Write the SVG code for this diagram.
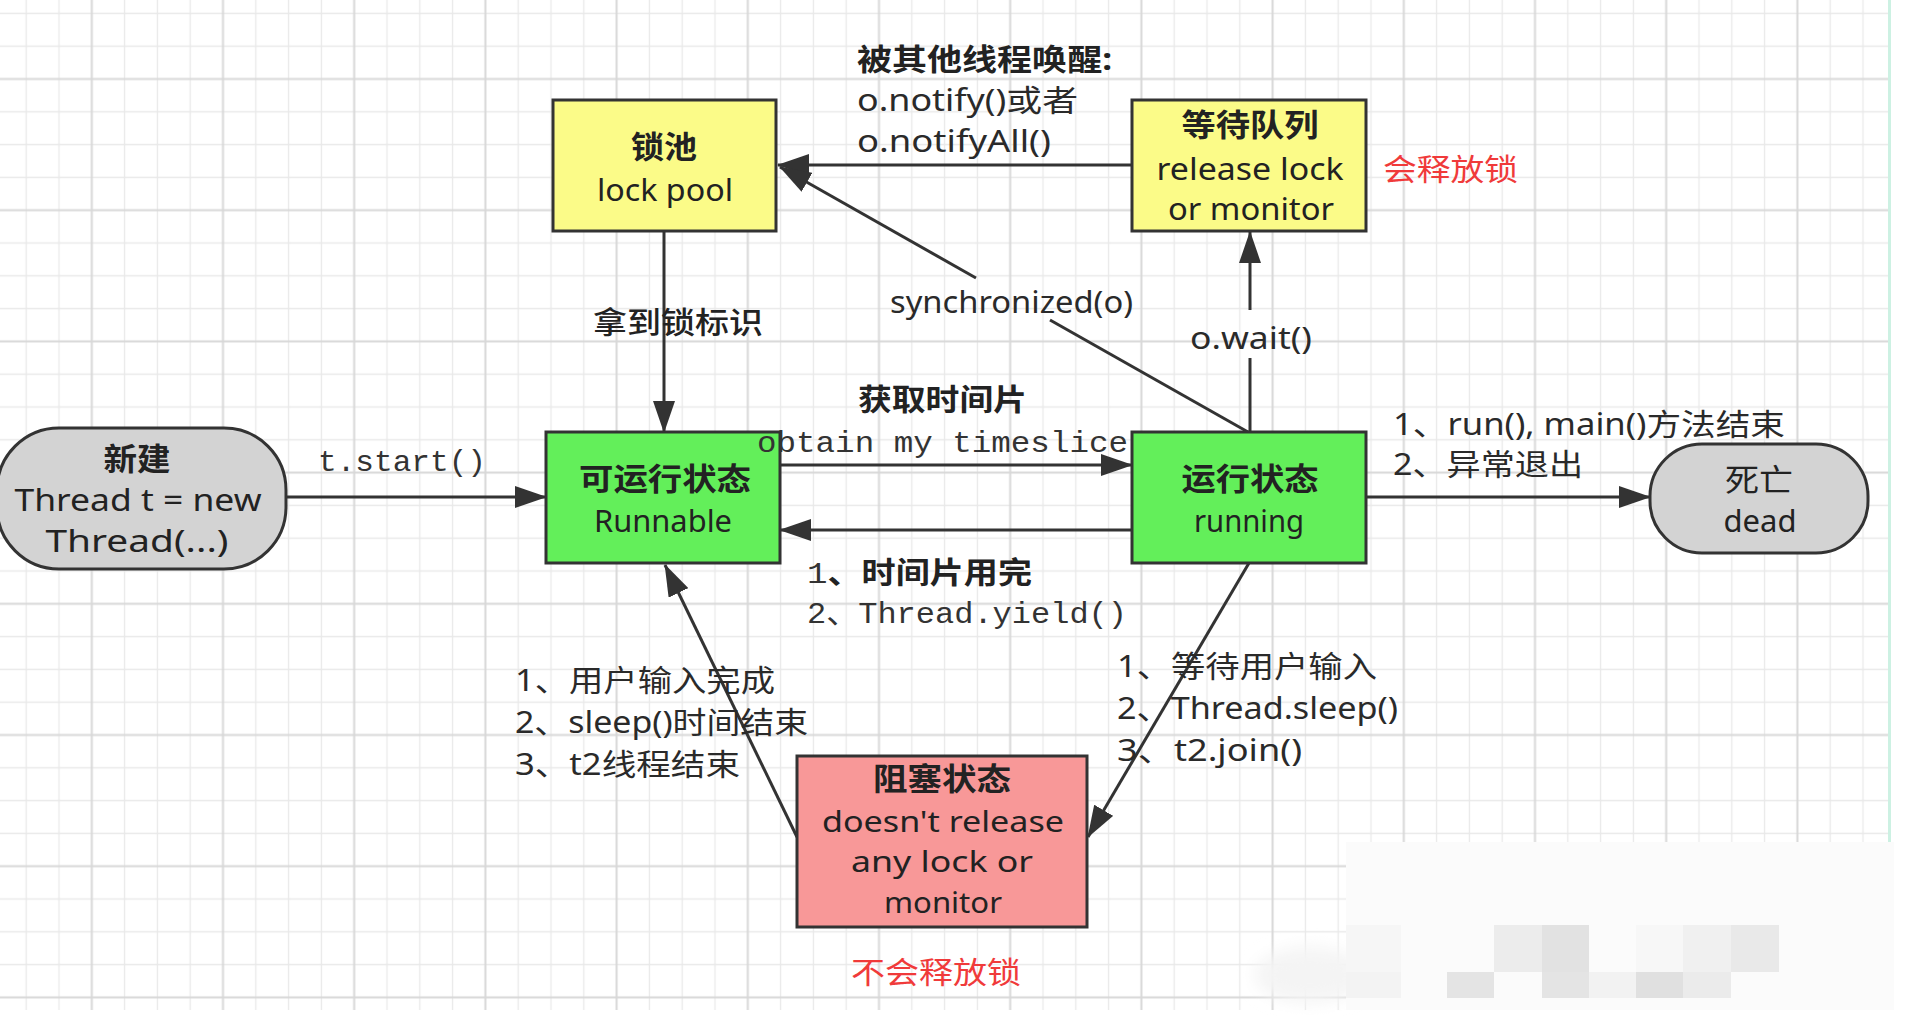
<svg xmlns="http://www.w3.org/2000/svg" width="1906" height="1016" viewBox="0 0 1906 1016">
<defs>
<pattern id="grid" patternUnits="userSpaceOnUse" x="75.4" y="62.6" width="131.2" height="131.2">
<path d="M49.2 0V131.2M82 0V131.2M114.8 0V131.2M0 49.2H131.2M0 82H131.2M0 114.8H131.2" stroke="#e9e9e9" stroke-width="1.3" fill="none"/>
<path d="M16.4 0V131.2M0 16.4H131.2" stroke="#d8d8d8" stroke-width="2" fill="none"/>
</pattern>
<marker id="arr" viewBox="0 0 32 22" refX="31" refY="11" markerWidth="32" markerHeight="22" markerUnits="userSpaceOnUse" orient="auto">
<path d="M0 0L32 11L0 22Z" fill="#333"/>
</marker>
<filter id="blur" x="-50%" y="-50%" width="200%" height="200%"><feGaussianBlur stdDeviation="8"/></filter>
</defs>
<style>
.box{stroke:#333;stroke-width:3}
.yellow{fill:#fbfb88}
.green{fill:#63ef5a}
.pink{fill:#f89898}
.grey{fill:#d3d3d3}
.conn line,.conn path{stroke:#333;stroke-width:3;fill:none}
.t{font-family:"Noto Sans","Noto Sans CJK SC",sans-serif;fill:#222;font-size:31px}
.t30{font-size:29px}
.c{font-family:"Noto Sans CJK SC","Noto Sans",sans-serif;fill:#222;font-size:31px;font-weight:bold}
.lbl{font-family:"Noto Sans","Noto Sans CJK SC",sans-serif;fill:#2a2a2a;font-size:30px}
.lblb{font-family:"Noto Sans","Noto Sans CJK SC",sans-serif;fill:#222;font-size:30px;font-weight:bold}
.mono{font-family:"Liberation Mono","Noto Sans CJK SC",monospace;fill:#333;font-size:30px}
.red{font-family:"Noto Sans CJK SC",sans-serif;fill:#f03a3a;font-size:30px}
.mid{text-anchor:middle}
</style>
<rect x="0" y="0" width="1906" height="1016" fill="#ffffff"/>
<rect x="0" y="0" width="1888" height="1010" fill="url(#grid)"/>
<line x1="1889.5" y1="0" x2="1889.5" y2="1010" stroke="#cdf1e3" stroke-width="3"/>

<!-- mosaic watermark area -->
<g id="mosaic">
<ellipse cx="1310" cy="975" rx="55" ry="28" fill="#f4f4f4" filter="url(#blur)"/>
<rect x="1346" y="842" width="548" height="168" fill="#fbfbfb"/>
<rect x="1346" y="925" width="55" height="47" fill="#f6f6f6"/>
<rect x="1494" y="925" width="48" height="47" fill="#ececec"/>
<rect x="1542" y="925" width="47" height="47" fill="#e2e2e2"/>
<rect x="1636" y="925" width="47" height="47" fill="#f7f7f7"/>
<rect x="1683" y="925" width="48" height="47" fill="#f0f0f0"/>
<rect x="1731" y="925" width="48" height="47" fill="#e9e9e9"/>
<rect x="1346" y="972" width="55" height="26" fill="#f3f3f3"/>
<rect x="1447" y="972" width="47" height="26" fill="#e4e4e4"/>
<rect x="1542" y="972" width="47" height="26" fill="#e4e4e4"/>
<rect x="1589" y="972" width="47" height="26" fill="#f2f2f2"/>
<rect x="1636" y="972" width="47" height="26" fill="#e0e0e0"/>
<rect x="1683" y="972" width="48" height="26" fill="#ebebeb"/>
</g>

<g class="conn" id="connectors">
<line x1="286" y1="497" x2="546" y2="497" marker-end="url(#arr)"/>
<line x1="664" y1="231" x2="664" y2="432" marker-end="url(#arr)"/>
<line x1="1132" y1="165" x2="778" y2="165" marker-end="url(#arr)"/>
<line x1="1248" y1="432" x2="1050" y2="320"/>
<line x1="976" y1="278" x2="780" y2="167" marker-end="url(#arr)"/>
<line x1="780" y1="465" x2="1132" y2="465" marker-end="url(#arr)"/>
<line x1="1132" y1="530" x2="780" y2="530" marker-end="url(#arr)"/>
<line x1="1250" y1="432" x2="1250" y2="358"/>
<line x1="1250" y1="310" x2="1250" y2="232" marker-end="url(#arr)"/>
<line x1="1366" y1="497" x2="1650" y2="497" marker-end="url(#arr)"/>
<line x1="1249" y1="563" x2="1088" y2="837" marker-end="url(#arr)"/>
<line x1="797" y1="837" x2="665" y2="565" marker-end="url(#arr)"/>
</g>

<g id="node-new">
<rect class="box grey" x="-3" y="428" width="289" height="141" rx="62" ry="62"/>
<text class="c mid" x="137" y="470" textLength="67" lengthAdjust="spacingAndGlyphs">新建</text>
<text class="t mid" x="138" y="511" textLength="247" lengthAdjust="spacingAndGlyphs">Thread t = new</text>
<text class="t mid" x="137" y="552" textLength="183" lengthAdjust="spacingAndGlyphs">Thread(...)</text>
</g>

<g id="node-lockpool">
<rect class="box yellow" x="553" y="100" width="223" height="131"/>
<text class="c mid" x="664" y="158" textLength="66" lengthAdjust="spacingAndGlyphs">锁池</text>
<text class="t mid" x="665" y="201" textLength="136" lengthAdjust="spacingAndGlyphs">lock pool</text>
</g>

<g id="node-waitqueue">
<rect class="box yellow" x="1132" y="100" width="234" height="131"/>
<text class="c mid" x="1250" y="136" textLength="137" lengthAdjust="spacingAndGlyphs">等待队列</text>
<text class="t mid" x="1250" y="180" textLength="187" lengthAdjust="spacingAndGlyphs">release lock</text>
<text class="t mid" x="1251" y="220" textLength="166" lengthAdjust="spacingAndGlyphs">or monitor</text>
</g>

<g id="node-runnable">
<rect class="box green" x="546" y="432" width="234" height="131"/>
<text class="c mid" x="665" y="490" textLength="172" lengthAdjust="spacingAndGlyphs">可运行状态</text>
<text class="t mid" x="663" y="532" textLength="138" lengthAdjust="spacingAndGlyphs">Runnable</text>
</g>

<g id="node-running">
<rect class="box green" x="1132" y="432" width="234" height="131"/>
<text class="c mid" x="1250" y="490" textLength="137" lengthAdjust="spacingAndGlyphs">运行状态</text>
<text class="t mid" x="1249" y="532" textLength="110" lengthAdjust="spacingAndGlyphs">running</text>
</g>

<g id="node-blocked">
<rect class="box pink" x="797" y="756" width="290" height="171"/>
<text class="c mid" x="942" y="790" textLength="138" lengthAdjust="spacingAndGlyphs">阻塞状态</text>
<text class="t t30 mid" x="943" y="832" textLength="242" lengthAdjust="spacingAndGlyphs">doesn't release</text>
<text class="t t30 mid" x="942" y="872" textLength="182" lengthAdjust="spacingAndGlyphs">any lock or</text>
<text class="t t30 mid" x="943" y="913" textLength="118" lengthAdjust="spacingAndGlyphs">monitor</text>
</g>

<g id="node-dead">
<rect class="box grey" x="1650" y="444" width="218" height="109" rx="52" ry="52"/>
<text class="c mid" x="1759" y="491" textLength="68" lengthAdjust="spacingAndGlyphs" style="font-weight:normal">死亡</text>
<text class="t mid" x="1760" y="532" textLength="73" lengthAdjust="spacingAndGlyphs">dead</text>
</g>

<g id="labels">
<text class="mono" x="318" y="471" textLength="168" lengthAdjust="spacingAndGlyphs">t.start()</text>
<text class="lblb" x="593" y="333" textLength="170" lengthAdjust="spacingAndGlyphs" style="font-weight:500">拿到锁标识</text>
<text class="lblb" x="857" y="70" textLength="255" lengthAdjust="spacingAndGlyphs">被其他线程唤醒:</text>
<text class="lbl" x="857" y="111" textLength="221" lengthAdjust="spacingAndGlyphs">o.notify()或者</text>
<text class="lbl" x="857" y="152" textLength="194" lengthAdjust="spacingAndGlyphs">o.notifyAll()</text>
<text class="red" x="1383" y="180" textLength="135" lengthAdjust="spacingAndGlyphs">会释放锁</text>
<text class="lbl" x="890" y="313" textLength="243" lengthAdjust="spacingAndGlyphs">synchronized(o)</text>
<text class="lbl" x="1190" y="349" textLength="122" lengthAdjust="spacingAndGlyphs">o.wait()</text>
<text class="lblb" x="858" y="410" textLength="169" lengthAdjust="spacingAndGlyphs">获取时间片</text>
<text class="mono" x="757" y="452" textLength="371" lengthAdjust="spacingAndGlyphs">obtain my timeslice</text>
<text class="lblb" x="807" y="583" textLength="225" lengthAdjust="spacingAndGlyphs"><tspan class="mono" style="font-weight:normal">1</tspan>、时间片用完</text>
<text class="mono" x="807" y="623" textLength="320" lengthAdjust="spacingAndGlyphs">2、Thread.yield()</text>
<text class="lbl" x="1393" y="435" textLength="392" lengthAdjust="spacingAndGlyphs">1、run(), main()方法结束</text>
<text class="lbl" x="1393" y="475" textLength="190" lengthAdjust="spacingAndGlyphs">2、异常退出</text>
<text class="lbl" x="1117" y="677" textLength="260" lengthAdjust="spacingAndGlyphs">1、等待用户输入</text>
<text class="lbl" x="1117" y="719" textLength="281" lengthAdjust="spacingAndGlyphs">2、Thread.sleep()</text>
<text class="lbl" x="1117" y="761" textLength="185" lengthAdjust="spacingAndGlyphs">3、t2.join()</text>
<text class="lbl" x="515" y="691" textLength="260" lengthAdjust="spacingAndGlyphs">1、用户输入完成</text>
<text class="lbl" x="515" y="733" textLength="293" lengthAdjust="spacingAndGlyphs">2、sleep()时间结束</text>
<text class="lbl" x="515" y="775" textLength="225" lengthAdjust="spacingAndGlyphs">3、t2线程结束</text>
<text class="red" x="851" y="983" textLength="170" lengthAdjust="spacingAndGlyphs">不会释放锁</text>
</g>
</svg>
